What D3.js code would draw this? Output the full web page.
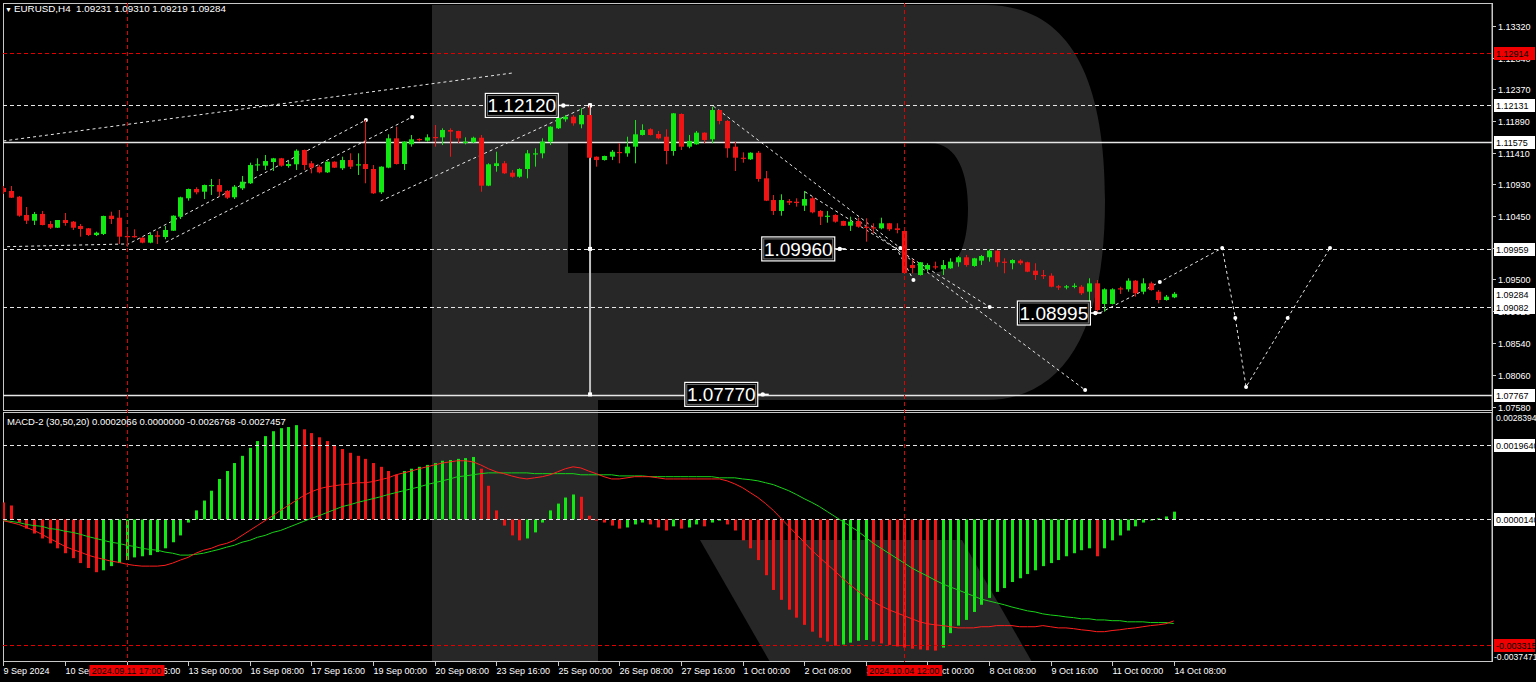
<!DOCTYPE html>
<html><head><meta charset="utf-8">
<script src="https://cdn.jsdelivr.net/npm/d3@7"></script>
<style>html,body{margin:0;padding:0;background:#000;overflow:hidden}svg{display:block}</style>
</head><body>
<svg id="c" width="1536" height="682"></svg>
<script>
// ---------------- DATA ----------------
const openP = [1.10877,1.10832,1.10746,1.10471,1.10385,1.10486,1.10335,1.10279,1.10395,1.10370,
1.10305,1.10270,1.10169,1.10185,1.10460,1.10430,1.10154,1.10154,1.10129,1.10054,
1.10165,1.10139,1.10234,1.10445,1.10722,1.10862,1.10821,1.10918,1.10922,1.10832,
1.10737,1.10872,1.10948,1.11228,1.11213,1.11268,1.11324,1.11208,1.11234,1.11449,
1.11249,1.11198,1.11113,1.11273,1.11174,1.11298,1.11223,1.11238,1.11163,1.10812,
1.11183,1.11625,1.11238,1.11535,1.11615,1.11589,1.11645,1.11640,1.11750,1.11735,
1.11570,1.11565,1.11634,1.10912,1.11208,1.11249,1.11107,1.11047,1.11163,1.11393,
1.11399,1.11574,1.11776,1.11911,1.11950,1.11836,1.11976,1.11348,1.11298,1.11348,
1.11419,1.11399,1.11499,1.11675,1.11761,1.11690,1.11649,1.11434,1.11991,1.11499,
1.11535,1.11710,1.11610,1.12051,1.11886,1.11499,1.11333,1.11309,1.11408,1.11023,
1.10696,1.10531,1.10681,1.10671,1.10611,1.10722,1.10531,1.10445,1.10471,1.10380,
1.10309,1.10380,1.10294,1.10285,1.10270,1.10346,1.10270,1.10230,1.09718,1.09567,
1.09653,1.09698,1.09653,1.09668,1.09759,1.09834,1.09703,1.09783,1.09834,1.09933,
1.09768,1.09744,1.09783,1.09759,1.09632,1.09567,1.09557,1.09397,1.09387,1.09397,
1.09391,1.09316,1.09442,1.09131,1.09131,1.09367,1.09352,1.09482,1.09316,1.09442,
1.09316,1.09191,1.09231];
const highP = [1.10907,1.10907,1.10757,1.10591,1.10516,1.10531,1.10380,1.10395,1.10501,1.10380,
1.10335,1.10275,1.10219,1.10460,1.10520,1.10546,1.10245,1.10255,1.10135,1.10204,
1.10230,1.10305,1.10465,1.10746,1.10868,1.10888,1.10928,1.11013,1.11013,1.10847,
1.10922,1.11058,1.11258,1.11324,1.11374,1.11330,1.11330,1.11288,1.11460,1.11455,
1.11283,1.11223,1.11278,1.11278,1.11348,1.11399,1.11399,1.11901,1.11223,1.11203,
1.11685,1.11800,1.11580,1.11675,1.11625,1.11685,1.11825,1.11776,1.11776,1.11740,
1.11640,1.11649,1.11675,1.11249,1.11423,1.11283,1.11148,1.11174,1.11449,1.11475,
1.11625,1.11806,1.11976,1.11976,1.11976,1.12077,1.12120,1.11353,1.11363,1.11449,
1.11550,1.11649,1.11901,1.11836,1.11776,1.11735,1.11761,1.12006,1.12001,1.11675,
1.11735,1.11715,1.12101,1.12056,1.11901,1.11574,1.11414,1.11414,1.11434,1.11133,
1.10772,1.10782,1.10711,1.10722,1.10832,1.10746,1.10546,1.10531,1.10481,1.10385,
1.10445,1.10430,1.10421,1.10346,1.10430,1.10351,1.10346,1.10260,1.09804,1.09763,
1.09744,1.09768,1.09793,1.09819,1.09853,1.09869,1.09825,1.09869,1.09954,1.09944,
1.09819,1.09804,1.09804,1.09768,1.09744,1.09643,1.09593,1.09417,1.09417,1.09442,
1.09417,1.09518,1.09492,1.09367,1.09367,1.09391,1.09518,1.09492,1.09518,1.09467,
1.09341,1.09266,1.09310];
const lowP = [1.10787,1.10727,1.10445,1.10335,1.10320,1.10315,1.10260,1.10275,1.10309,1.10245,
1.10144,1.10154,1.10154,1.10169,1.10335,1.10034,1.09993,1.10129,1.10045,1.10045,
1.10034,1.10105,1.10230,1.10410,1.10686,1.10782,1.10711,1.10772,1.10746,1.10711,
1.10711,1.10847,1.10937,1.11133,1.11148,1.11133,1.11198,1.11183,1.11148,1.11148,
1.11098,1.11098,1.11103,1.11178,1.11148,1.11163,1.11073,1.10948,1.10787,1.10787,
1.11175,1.11230,1.11148,1.11499,1.11574,1.11574,1.11499,1.11524,1.11348,1.11550,
1.11535,1.11550,1.10821,1.10905,1.11122,1.11088,1.11032,1.11032,1.11023,1.11198,
1.11324,1.11524,1.11765,1.11875,1.11815,1.11776,1.11325,1.11198,1.11290,1.11298,
1.11249,1.11348,1.11249,1.11668,1.11668,1.11610,1.11234,1.11363,1.11449,1.11475,
1.11528,1.11550,1.11550,1.11836,1.11333,1.11133,1.11258,1.11300,1.10972,1.10680,
1.10471,1.10460,1.10621,1.10596,1.10531,1.10496,1.10320,1.10355,1.10355,1.10305,
1.10230,1.10279,1.10069,1.10195,1.10255,1.10230,1.10195,1.09583,1.09593,1.09560,
1.09617,1.09653,1.09567,1.09660,1.09692,1.09692,1.09692,1.09718,1.09768,1.09692,
1.09593,1.09653,1.09718,1.09610,1.09492,1.09507,1.09382,1.09342,1.09352,1.09367,
1.09266,1.09090,1.08995,1.09015,1.09125,1.09282,1.09316,1.09241,1.09277,1.09331,
1.09141,1.09180,1.09219];
const closeP = [1.10817,1.10731,1.10460,1.10385,1.10486,1.10320,1.10279,1.10395,1.10350,1.10279,
1.10260,1.10169,1.10204,1.10456,1.10410,1.10144,1.10139,1.10135,1.10054,1.10169,
1.10144,1.10245,1.10460,1.10737,1.10862,1.10812,1.10922,1.10922,1.10821,1.10731,
1.10897,1.10972,1.11223,1.11234,1.11283,1.11324,1.11213,1.11238,1.11439,1.11223,
1.11183,1.11113,1.11273,1.11183,1.11298,1.11198,1.11234,1.11163,1.10797,1.11198,
1.11625,1.11238,1.11574,1.11610,1.11600,1.11640,1.11630,1.11750,1.11725,1.11625,
1.11574,1.11634,1.10912,1.11234,1.11249,1.11098,1.11047,1.11163,1.11399,1.11399,
1.11574,1.11800,1.11935,1.11950,1.11851,1.11976,1.11333,1.11298,1.11359,1.11423,
1.11408,1.11499,1.11685,1.11750,1.11675,1.11625,1.11434,1.12001,1.11499,1.11585,
1.11710,1.11600,1.12051,1.11886,1.11475,1.11333,1.11324,1.11408,1.11013,1.10686,
1.10531,1.10696,1.10656,1.10651,1.10711,1.10511,1.10445,1.10460,1.10370,1.10309,
1.10370,1.10294,1.10285,1.10275,1.10346,1.10255,1.10245,1.09598,1.09672,1.09759,
1.09718,1.09688,1.09718,1.09768,1.09834,1.09718,1.09819,1.09853,1.09933,1.09759,
1.09753,1.09793,1.09744,1.09617,1.09567,1.09552,1.09391,1.09387,1.09397,1.09406,
1.09292,1.09442,1.09040,1.09352,1.09352,1.09352,1.09482,1.09292,1.09442,1.09341,
1.09191,1.09241,1.09284];

const macdHist = [0.00045,0.00037,-0.00008,-0.00024,-0.00037,-0.00050,-0.00063,-0.00076,-0.00089,-0.00102,
-0.00115,-0.00128,-0.00139,-0.00134,-0.00123,-0.00115,-0.00107,-0.00100,-0.00097,-0.00094,
-0.00086,-0.00076,-0.00060,-0.00042,-0.00008,0.00024,0.00050,0.00076,0.00107,0.00128,
0.00149,0.00168,0.00189,0.00207,0.00220,0.00233,0.00241,0.00244,0.00249,0.00238,
0.00228,0.00217,0.00207,0.00194,0.00186,0.00176,0.00168,0.00160,0.00149,0.00139,
0.00128,0.00118,0.00128,0.00134,0.00139,0.00144,0.00149,0.00155,0.00157,0.00160,
0.00162,0.00165,0.00134,0.00089,0.00024,-0.00016,-0.00042,-0.00055,-0.00050,-0.00034,
-0.00008,0.00024,0.00042,0.00058,0.00066,0.00060,0.00010,-0.00003,-0.00008,-0.00016,
-0.00024,-0.00021,-0.00013,-0.00008,-0.00013,-0.00021,-0.00029,-0.00018,-0.00024,-0.00021,
-0.00013,-0.00018,-0.00008,-0.00003,-0.00013,-0.00029,-0.00055,-0.00076,-0.00107,-0.00147,
-0.00186,-0.00212,-0.00238,-0.00259,-0.00278,-0.00296,-0.00312,-0.00322,-0.00333,-0.00330,
-0.00325,-0.00320,-0.00318,-0.00322,-0.00327,-0.00331,-0.00335,-0.00338,-0.00341,-0.00343,
-0.00345,-0.00346,-0.00338,-0.00300,-0.00280,-0.00265,-0.00244,-0.00225,-0.00207,-0.00191,
-0.00181,-0.00165,-0.00155,-0.00144,-0.00134,-0.00123,-0.00115,-0.00107,-0.00097,-0.00089,
-0.00081,-0.00076,-0.00097,-0.00076,-0.00055,-0.00042,-0.00029,-0.00018,-0.00008,0.00000,
0.00003,0.00008,0.0002066];
const macdRed = [-0.00003,-0.00008,-0.00013,-0.00021,-0.00029,-0.00039,-0.00050,-0.00060,-0.00071,-0.00079,
-0.00086,-0.00094,-0.00100,-0.00105,-0.00110,-0.00113,-0.00118,-0.00121,-0.00123,-0.00123,
-0.00123,-0.00121,-0.00115,-0.00107,-0.00100,-0.00089,-0.00081,-0.00076,-0.00068,-0.00063,
-0.00055,-0.00042,-0.00029,-0.00016,-0.00003,0.00010,0.00024,0.00037,0.00050,0.00063,
0.00073,0.00081,0.00086,0.00089,0.00092,0.00094,0.00097,0.00097,0.00100,0.00105,
0.00110,0.00118,0.00123,0.00128,0.00134,0.00139,0.00144,0.00149,0.00152,0.00155,
0.00155,0.00152,0.00144,0.00134,0.00126,0.00121,0.00115,0.00110,0.00107,0.00110,
0.00113,0.00118,0.00126,0.00134,0.00139,0.00136,0.00128,0.00121,0.00113,0.00107,
0.00107,0.00110,0.00113,0.00113,0.00113,0.00110,0.00107,0.00107,0.00107,0.00107,
0.00107,0.00107,0.00107,0.00107,0.00102,0.00094,0.00084,0.00071,0.00058,0.00042,
0.00024,0.00003,-0.00018,-0.00039,-0.00060,-0.00081,-0.00100,-0.00118,-0.00136,-0.00155,
-0.00173,-0.00189,-0.00204,-0.00217,-0.00228,-0.00238,-0.00246,-0.00254,-0.00262,-0.00270,
-0.00275,-0.00278,-0.00280,-0.00283,-0.00286,-0.00286,-0.00286,-0.00283,-0.00283,-0.00280,
-0.00280,-0.00280,-0.00283,-0.00283,-0.00283,-0.00280,-0.00283,-0.00286,-0.00286,-0.00288,
-0.00291,-0.00293,-0.00296,-0.00296,-0.00293,-0.00291,-0.00288,-0.00286,-0.00283,-0.00280,
-0.00278,-0.00275,-0.0026768];
const macdGreen = [-0.00003,-0.00005,-0.00008,-0.00013,-0.00016,-0.00018,-0.00024,-0.00026,-0.00031,-0.00034,
-0.00039,-0.00045,-0.00050,-0.00055,-0.00060,-0.00063,-0.00068,-0.00071,-0.00076,-0.00079,
-0.00081,-0.00086,-0.00089,-0.00094,-0.00094,-0.00092,-0.00089,-0.00084,-0.00079,-0.00073,
-0.00068,-0.00060,-0.00055,-0.00047,-0.00042,-0.00034,-0.00029,-0.00021,-0.00013,-0.00005,
0.00003,0.00010,0.00018,0.00026,0.00034,0.00039,0.00045,0.00050,0.00055,0.00060,
0.00066,0.00071,0.00076,0.00081,0.00086,0.00092,0.00097,0.00102,0.00107,0.00113,
0.00115,0.00118,0.00121,0.00123,0.00123,0.00123,0.00123,0.00123,0.00123,0.00121,
0.00121,0.00121,0.00121,0.00121,0.00121,0.00118,0.00118,0.00118,0.00118,0.00118,
0.00115,0.00115,0.00115,0.00115,0.00113,0.00113,0.00113,0.00113,0.00113,0.00113,
0.00113,0.00113,0.00113,0.00110,0.00110,0.00110,0.00107,0.00105,0.00102,0.00097,
0.00092,0.00084,0.00076,0.00066,0.00055,0.00045,0.00034,0.00021,0.00008,-0.00005,
-0.00018,-0.00031,-0.00047,-0.00063,-0.00076,-0.00089,-0.00102,-0.00115,-0.00128,-0.00139,
-0.00149,-0.00160,-0.00170,-0.00178,-0.00186,-0.00194,-0.00202,-0.00210,-0.00215,-0.00220,
-0.00225,-0.00231,-0.00236,-0.00241,-0.00244,-0.00249,-0.00252,-0.00254,-0.00257,-0.00259,
-0.00262,-0.00262,-0.00265,-0.00265,-0.00267,-0.00267,-0.00270,-0.00270,-0.00270,-0.00272,
-0.00272,-0.00272,-0.0027457];

const timeTicks = [0,8,16,24,32,40,48,56,64,72,80,88,96,104,112,120,128,136,144,152];
const timeLabels = ["9 Sep 2024","10 Sep 08:00","11 Sep 16:00","13 Sep 00:00","16 Sep 08:00","17 Sep 16:00",
"19 Sep 00:00","20 Sep 08:00","23 Sep 16:00","25 Sep 00:00","26 Sep 08:00","27 Sep 16:00","1 Oct 00:00",
"2 Oct 08:00","3 Oct 16:00","7 Oct 00:00","8 Oct 08:00","9 Oct 16:00","11 Oct 00:00","14 Oct 08:00"];
const priceTicks = [1.13320,1.12840,1.12370,1.11890,1.11410,1.10930,1.10450,1.09980,1.09500,1.09020,1.08540,1.08060,1.07580];
const priceLevels = [
  {p:1.12914,kind:"red"},{p:1.12131,kind:"dash"},{p:1.11575,kind:"solid"},
  {p:1.09959,kind:"dash"},{p:1.09082,kind:"dash"},{p:1.07767,kind:"solid"}];
const currentPrice = 1.09284;
const macdLevels = [{v:0.0019640,kind:"dash"},{v:0.0000140,kind:"dash"},{v:-0.003315,kind:"red"}];
const macdEdgeLabels = [0.0028394,-0.0037471];
const redMarkers = [{i:16,label:"2024.09.11 17:00"},{i:117,label:"2024.10.04 12:00"}];
const trendLines = [
  {pts:[[0,1.11585],[66.1,1.12608]],mark:false},
  {pts:[[0.5,1.09994],[15.8,1.10034]],mark:false},
  {pts:[[16,1.10019],[47.1,1.11901]],mark:true},
  {pts:[[21.1,1.10060],[53.1,1.11946]],mark:true},
  {pts:[[49,1.10681],[76.2,1.12126]],mark:true},
  {pts:[[92.2,1.12111],[116.5,1.09974]],mark:true},
  {pts:[[104.1,1.10821],[128.1,1.09086]],mark:true},
  {pts:[[110.6,1.10425],[140.5,1.07836]],mark:true},
  {pts:[[115.9,1.09989],[118.2,1.09492]],mark:true}
];
const forecastPath = [[142.4,1.08995],[150.2,1.09462],[158.3,1.09974],[160,1.08920],[161.4,1.07881],[166.8,1.08920],[172.3,1.09974]];
const callouts = [
  {text:"1.12120",i:62.6,p:1.12120},{text:"1.09960",i:98.5,p:1.09960},
  {text:"1.08995",i:131.7,p:1.08995},{text:"1.07770",i:88.5,p:1.07770}];
const measure = {i:76.2,top:1.12120,mid:1.09960,bottom:1.07770};

// ---------------- SCALES ----------------
const svg = d3.select("#c");
const AX = 1492;
const x = d3.scaleLinear().domain([0,152]).range([3.3,1173.7]);
const y = d3.scaleLinear().domain([1.07535,1.13662]).range([410,3]);
const ym = d3.scaleLinear().domain([-0.0037471,0.0028394]).range([661.5,411.9]);
const GREEN="#12e812", RED="#f01414";
const FONT="Liberation Sans, Arial, sans-serif";

svg.append("rect").attr("width",1536).attr("height",682).attr("fill","#000");

// watermark R
const wm = svg.append("g").attr("fill","#272727");
wm.append("path").attr("fill-rule","evenodd")
  .attr("d","M432,5 H985 C1065,5 1105,70 1105,200 C1105,330 1065,400 985,400 H598 V662 H432 Z M568,143 H930 C958,143 968,175 968,208 C968,245 958,273 930,273 H568 Z");
wm.append("path").attr("d","M700,540 H962 L1032,662 H770 Z");

const defs = svg.append("defs");
defs.append("clipPath").attr("id","cm").append("rect").attr("x",3).attr("y",3).attr("width",AX-3).attr("height",407);
defs.append("clipPath").attr("id","cd").append("rect").attr("x",3).attr("y",412).attr("width",AX-3).attr("height",250);

// frames
svg.append("rect").attr("x",3.5).attr("y",3.5).attr("width",AX-3.5).attr("height",407).attr("fill","none").attr("stroke","#c8c8c8").attr("stroke-width",1);
svg.append("rect").attr("x",3.5).attr("y",412.5).attr("width",AX-3.5).attr("height",249).attr("fill","none").attr("stroke","#c8c8c8").attr("stroke-width",1);

const main = svg.append("g").attr("clip-path","url(#cm)");
const sub = svg.append("g").attr("clip-path","url(#cd)");

// price levels
priceLevels.forEach(l=>{
  const yy=Math.round(y(l.p))+0.5;
  main.append("line").attr("x1",3).attr("x2",AX).attr("y1",yy).attr("y2",yy)
    .attr("stroke", l.kind==="red"?"#e00000":"#e6e6e6")
    .attr("stroke-width", l.kind==="solid"?1.5:1)
    .attr("stroke-dasharray", l.kind==="solid"?null:"4,3");
});

// red vertical markers
redMarkers.forEach(m=>{
  svg.append("line").attr("x1",Math.round(x(m.i))+0.5).attr("x2",Math.round(x(m.i))+0.5).attr("y1",3).attr("y2",662)
   .attr("stroke","#e00000").attr("stroke-dasharray","4,3");
});

// trend lines
const tl = main.append("g").attr("stroke","#e8e8e8").attr("stroke-width",1).attr("stroke-dasharray","3,3").attr("fill","none");
trendLines.forEach(s=>{
  tl.append("line").attr("x1",x(s.pts[0][0])).attr("y1",y(s.pts[0][1])).attr("x2",x(s.pts[1][0])).attr("y2",y(s.pts[1][1]));
});
const lineGen = d3.line().x(d=>x(d[0])).y(d=>y(d[1]));
tl.append("path").attr("d",lineGen(forecastPath));
const mk = main.append("g").attr("fill","#fff");
trendLines.filter(s=>s.mark).forEach(s=>{ mk.append("circle").attr("cx",x(s.pts[1][0])).attr("cy",y(s.pts[1][1])).attr("r",2); });
forecastPath.slice(1).forEach(d=>{ mk.append("circle").attr("cx",x(d[0])).attr("cy",y(d[1])).attr("r",2); });

// measure vertical line
main.append("line").attr("x1",x(measure.i)).attr("x2",x(measure.i)).attr("y1",y(measure.top)).attr("y2",y(measure.bottom))
  .attr("stroke","#c0c0c0").attr("stroke-width",2);
[measure.top,measure.mid,measure.bottom].forEach(p=>{
  main.append("rect").attr("x",x(measure.i)-2).attr("y",y(p)-2).attr("width",4).attr("height",4).attr("fill","#fff");
});

// candles
const idx = d3.range(openP.length);
const cg = main.append("g");
idx.forEach(i=>{
  const up = closeP[i]>=openP[i];
  const col = up?GREEN:RED;
  const cx = Math.round(x(i));
  cg.append("line").attr("x1",cx+0.5).attr("x2",cx+0.5).attr("y1",y(highP[i])).attr("y2",y(lowP[i])).attr("stroke",col);
  const y0=y(Math.max(openP[i],closeP[i])), y1=y(Math.min(openP[i],closeP[i]));
  cg.append("rect").attr("x",cx-2).attr("y",y0).attr("width",5).attr("height",Math.max(1.2,y1-y0)).attr("fill",col);
});

// callouts
callouts.forEach(c=>{
  const bx=x(c.i), by=y(c.p);
  const g=main.append("g");
  g.append("rect").attr("x",bx).attr("y",by-12).attr("width",73).attr("height",24).attr("fill","#000").attr("stroke","#fff").attr("stroke-width",1.2);
  g.append("rect").attr("x",bx+2).attr("y",by-10).attr("width",69).attr("height",20).attr("fill","none").attr("stroke","#777").attr("stroke-width",1);
  g.append("text").attr("x",bx+36.5).attr("y",by+7).attr("text-anchor","middle").attr("fill","#fff")
    .attr("font-family",FONT).attr("font-size",19).text(c.text);
  g.append("line").attr("x1",bx+73).attr("x2",bx+84).attr("y1",by).attr("y2",by).attr("stroke","#fff").attr("stroke-width",1.5);
  g.append("circle").attr("cx",bx+78).attr("cy",by).attr("r",2.2).attr("fill","#fff");
});

// MACD
const zeroY = ym(0);
idx.forEach(i=>{
  const v=macdHist[i];
  const rising = i>0 ? v>=macdHist[i-1] : false;
  const yy=ym(v);
  sub.append("rect").attr("x",Math.round(x(i))-1).attr("y",Math.min(yy,zeroY)).attr("width",3)
    .attr("height",Math.max(1,Math.abs(yy-zeroY))).attr("fill",rising?GREEN:RED);
});
macdLevels.forEach(l=>{
  const yy=Math.round(ym(l.v))+0.5;
  sub.append("line").attr("x1",3).attr("x2",AX).attr("y1",yy).attr("y2",yy)
   .attr("stroke",l.kind==="red"?"#e00000":"#e6e6e6").attr("stroke-dasharray","4,3");
});
const ml = d3.line().x((d,i)=>x(i)).y(d=>ym(d));
sub.append("path").attr("d",ml(macdGreen)).attr("fill","none").attr("stroke","#19d219").attr("stroke-width",1);
sub.append("path").attr("d",ml(macdRed)).attr("fill","none").attr("stroke","#ff1e1e").attr("stroke-width",1);

// header texts
svg.append("text").attr("x",5).attr("y",12).attr("fill","#fff").attr("font-family",FONT).attr("font-size",7).text("▼");
svg.append("text").attr("x",14).attr("y",12).attr("fill","#fff").attr("font-family",FONT).attr("font-size",9.8)
  .attr("xml:space","preserve").text("EURUSD,H4  1.09231 1.09310 1.09219 1.09284");
svg.append("text").attr("x",7).attr("y",425).attr("fill","#fff").attr("font-family",FONT).attr("font-size",9.5)
  .text("MACD-2 (30,50,20) 0.0002066 0.0000000 -0.0026768 -0.0027457");

// right axis
const ax = svg.append("g").attr("font-family",FONT).attr("font-size",9);
ax.append("line").attr("x1",AX+0.5).attr("x2",AX+0.5).attr("y1",3).attr("y2",662).attr("stroke","#c8c8c8");
priceTicks.forEach(p=>{
  const yy=Math.round(y(p))+0.5;
  ax.append("line").attr("x1",AX).attr("x2",AX+4).attr("y1",yy).attr("y2",yy).attr("stroke","#c8c8c8");
  ax.append("text").attr("x",AX+6).attr("y",yy+3.5).attr("fill","#fff").text(p.toFixed(5));
});
function box(yy,txt,bg,fg){
  ax.append("rect").attr("x",AX+2).attr("y",yy-6.5).attr("width",41).attr("height",13).attr("fill",bg);
  ax.append("text").attr("x",AX+4).attr("y",yy+3.5).attr("fill",fg).text(txt);
}
priceLevels.forEach(l=>{
  box(Math.round(y(l.p))+0.5, l.p.toFixed(5), l.kind==="red"?"#f00000":"#fff", "#000");
});
box(Math.round(y(currentPrice))+0.5, currentPrice.toFixed(5), "#fff", "#000");
ax.append("text").attr("x",AX+4).attr("y",421).attr("fill","#fff").attr("font-size",8.6).text(macdEdgeLabels[0].toFixed(7));
ax.append("text").attr("x",AX+2).attr("y",660).attr("fill","#fff").attr("font-size",8.6).text(macdEdgeLabels[1].toFixed(7));
macdLevels.forEach(l=>{
  const yy=Math.round(ym(l.v))+0.5;
  box(yy, l.kind==="red" ? l.v.toFixed(6) : l.v.toFixed(7), l.kind==="red"?"#f00000":"#fff", "#000");
});

// bottom axis
const bx = svg.append("g").attr("font-family",FONT).attr("font-size",9);
timeTicks.forEach((t,k)=>{
  const xx=Math.round(x(t))+0.5;
  bx.append("line").attr("x1",xx).attr("x2",xx).attr("y1",662).attr("y2",666).attr("stroke","#c8c8c8");
  bx.append("text").attr("x",xx).attr("y",674).attr("fill","#fff").text(timeLabels[k]);
});
redMarkers.forEach(m=>{
  const xx=x(m.i);
  bx.append("rect").attr("x",xx-37).attr("y",665).attr("width",75).attr("height",11).attr("fill","#f00000");
  bx.append("text").attr("x",xx).attr("y",674).attr("text-anchor","middle").attr("fill","#000").text(m.label);
});
</script>
</body></html>
